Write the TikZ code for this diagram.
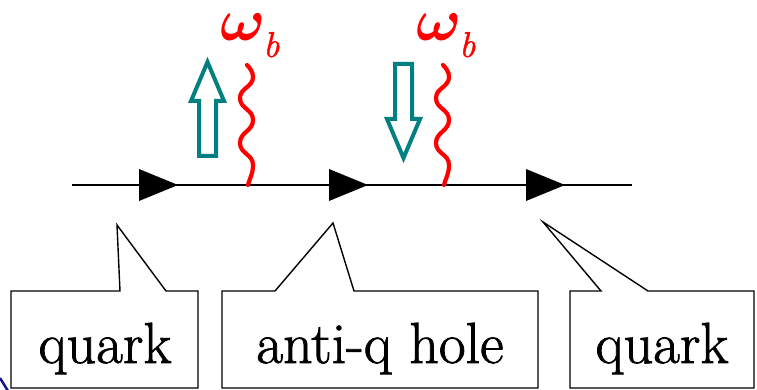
\documentclass[tikz,border=0pt]{standalone}
\usepackage{amsmath}
\usepackage{fontspec}
\newfontfamily\lmheavy{Latin Modern Roman}[FakeBold=1.3]
\definecolor{edgeblue}{RGB}{20,20,140}
\begin{document}
\begin{tikzpicture}[x=1pt,y=-1pt,
  callout/.style={draw=black,line width=1.4pt,fill=white,line join=miter},
  lbl/.style={font=\lmheavy\fontsize{58}{58}\selectfont,anchor=base,inner sep=0pt},
  omg/.style={text=red,scale=6,anchor=base west,inner sep=0pt},
  sublbl/.style={text=red,font=\lmheavy\fontsize{36}{36}\selectfont\itshape,anchor=base west,inner sep=0pt},
  gluon/.style={draw=red,line width=4.2pt,line cap=round},
  spinarrow/.style={draw=teal,line width=4pt,line join=miter},
  headtri/.style={fill=black}]
\useasboundingbox (0,0) rectangle (757,390);
% propagator line
\coordinate (L) at (72,185);
\coordinate (R) at (632,185);
\draw[line width=1.3pt] (L) -- (R);
\fill[headtri] (139,169) -- (178,185) -- (139,201) -- cycle;
\fill[headtri] (329,169) -- (368,185) -- (329,201) -- cycle;
\fill[headtri] (526,169) -- (565,185) -- (526,201) -- cycle;
% gluon lines
\foreach \dx/\nm in {0/g1,196/g2}{
\begin{scope}[xshift=\dx pt]
\draw[gluon] (247,65) .. controls (250,68) and (253,72) .. (253,77)
  .. controls (253,87) and (240,88) .. (240,98)
  .. controls (240,109) and (253,109) .. (253,120)
  .. controls (253,131) and (240,132) .. (240,143)
  .. controls (240,154) and (253,154) .. (253,165)
  .. controls (253,174) and (249,180) .. (248,185);
\end{scope}}
% labels omega_b
\node[omg] (w1) at (219,41) {$\boldsymbol{\omega}$};
\node[sublbl] (b1) at (263,57) {b};
\node[omg] (w2) at (415,41) {$\boldsymbol{\omega}$};
\node[sublbl] (b2) at (459,57) {b};
% spin arrows
\draw[spinarrow] (199,156) -- (199,101) -- (191,101) -- (207.5,62) -- (224,101) -- (216,101) -- (216,156) -- cycle;
\draw[spinarrow] (395,64) -- (395,119) -- (387,119) -- (403.5,158) -- (420,119) -- (412,119) -- (412,64) -- cycle;
% callouts
\draw[callout] (11,388) -- (11,291) -- (120,291) -- (117,225) -- (166,291) -- (198,291) -- (198,388) -- cycle;
\draw[callout] (222,388) -- (222,291) -- (275,291) -- (333,223) -- (354,291) -- (538,291) -- (538,388) -- cycle;
\draw[callout] (570,388) -- (570,291) -- (601,291) -- (543,222) -- (648,291) -- (754,291) -- (754,388) -- cycle;
\node[lbl] (q1) at (105,363) {quark};
\node[lbl] (aq) at (380,363) {anti-q hole};
\node[lbl] (q2) at (662,363) {quark};
% edge artifact
\draw[edgeblue,line width=2.5pt] (0,378) -- (8,391);
\end{tikzpicture}
\end{document}
